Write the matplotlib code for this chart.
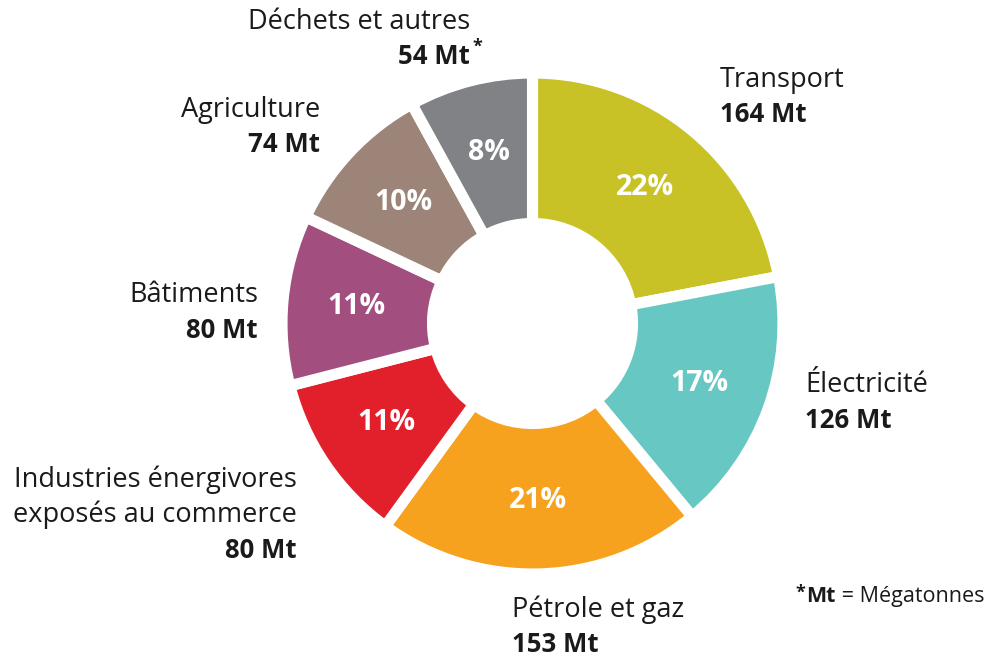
import numpy as np
import matplotlib.pyplot as plt

plt.rcParams['font.family'] = ['Open Sans', 'DejaVu Sans']

# Data
sectors = ['Transport', 'Électricité', 'Pétrole et gaz',
           'Industries énergivores\nexposés au commerce',
           'Bâtiments', 'Agriculture', 'Déchets et autres']
emissions = [164, 126, 153, 80, 80, 74, 54]   # Mt
shares = [22, 17, 21, 11, 11, 10, 8]          # %
colors = ['#C9C226', '#67C8C3', '#F6A21E', '#E2202B',
          '#A24E7F', '#9C8578', '#808285']

# label layout (pixel coords, y from top): x, y of first line, alignment
label_pos = [(720, 80, 'left'), (805, 385, 'left'), (512, 610, 'left'),
             (297, 480, 'right'), (258, 295, 'right'), (320, 110, 'right'),
             (470, 22, 'right')]

W, H = 992, 658
fig = plt.figure(figsize=(W / 100, H / 100), dpi=100)
ax = fig.add_axes([0, 0, 1, 1])

cx, cy = 532.5, H - 323.5
r_out = 250.5
r_in = 100

wedges, _ = ax.pie(shares, colors=colors, startangle=90, counterclock=False,
                   center=(cx, cy), radius=r_out, frame=True,
                   wedgeprops=dict(width=r_out - r_in, edgecolor='white', linewidth=8))
ax.set_xlim(0, W)
ax.set_ylim(0, H)
ax.set_aspect('equal')
ax.axis('off')

# percentages inside the ring
for w, p in zip(wedges, shares):
    ang = np.deg2rad((w.theta1 + w.theta2) / 2)
    rr = 177
    ax.text(cx + rr * np.cos(ang), cy + rr * np.sin(ang), f'{p}%', color='white',
            fontsize=20.5, fontweight='bold', ha='center', va='center')

# sector names and values
txt = '#1a1a1a'
line_h = 35
value_texts = []
for name, val, (x, y, ha) in zip(sectors, emissions, label_pos):
    lines = name.split('\n')
    for i, ln in enumerate(lines):
        ax.text(x, H - (y + i * line_h), ln, fontsize=19.5, ha=ha, va='center',
                color=txt)
    t = ax.text(x, H - (y + len(lines) * line_h), f'{val} Mt', fontsize=18.5,
                fontweight='bold', ha=ha, va='center', color=txt)
    value_texts.append(t)

# asterisk next to Déchets value (superscript)
ax.annotate('*', xy=(1, 1), xycoords=value_texts[-1], xytext=(2, 4),
            textcoords='offset points', fontsize=13, fontweight='bold',
            ha='left', va='top', color=txt)

# footnote
t1 = ax.text(795, H - 593, '*', fontsize=13, fontweight='bold', ha='left',
             va='center', color=txt)
t2 = ax.annotate('Mt', xy=(1, 0.3), xycoords=t1, xytext=(1, 0),
                 textcoords='offset points', fontsize=15.5, fontweight='bold',
                 ha='left', va='center', color=txt)
ax.annotate(' = Mégatonnes', xy=(1, 0.5), xycoords=t2, fontsize=15.5,
            ha='left', va='center', color=txt)

fig.savefig('out.png', dpi=100)
